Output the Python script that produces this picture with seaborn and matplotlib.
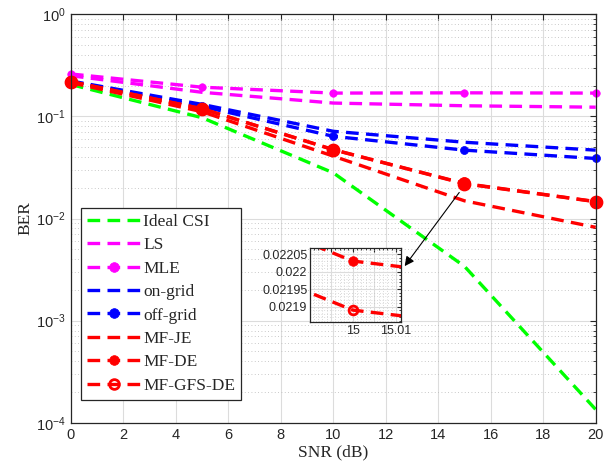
import numpy as np
import pandas as pd
import matplotlib
matplotlib.use("Agg")
import matplotlib.pyplot as plt
import seaborn as sns
from matplotlib.ticker import FixedLocator, FuncFormatter, LogLocator, NullFormatter

# SNR points (dB)
snr = [0, 5, 10, 15, 20]

# BER curves
ber_ideal = [0.205, 0.097, 0.028, 0.0034, 1.35e-4]
ber_ls = [0.25, 0.172, 0.135, 0.127, 0.123]
ber_mle = [0.26, 0.193, 0.169, 0.170, 0.169]
ber_ongrid = [0.222, 0.131, 0.0714, 0.0558, 0.0467]
ber_offgrid = [0.218, 0.125, 0.0638, 0.0467, 0.0387]
ber_mfje = [0.214, 0.111, 0.0408, 0.0149, 0.0082]
ber_mfde = [0.219, 0.119, 0.0473, 0.02203, 0.01466]
ber_gfs = [0.2185, 0.1185, 0.0471, 0.02189, 0.0146]

series = [
    ("Ideal CSI", ber_ideal, "#00ff00", None, 0),
    ("LS", ber_ls, "#ff00ff", None, 0),
    ("MLE", ber_mle, "#ff00ff", "o", 7.5),
    ("on-grid", ber_ongrid, "#0000ff", None, 0),
    ("off-grid", ber_offgrid, "#0000ff", "o", 8),
    ("MF-JE", ber_mfje, "#ff0000", None, 0),
    ("MF-DE", ber_mfde, "#ff0000", "o", 12),
    ("MF-GFS-DE", ber_gfs, "#ff0000", "o", 11),
]

# inset tick values
inset_xticks = [14.995, 15, 15.005, 15.01]
inset_xlabels = ["", "15", "", "15.01"]
inset_yticks = [0.0219, 0.02195, 0.022, 0.02205]

sns.set_style("white")
plt.rcParams["font.family"] = ["Liberation Sans", "DejaVu Sans"]
plt.rcParams["mathtext.fontset"] = "custom"
plt.rcParams["mathtext.rm"] = "Liberation Sans"

DASH = (0, (3.8, 2.2))
LW = 2.4


def draw_series(ax, name, vals, color, marker, ms, clip=True):
    kws = dict(color=color, linewidth=LW, linestyle=DASH, label=name)
    if marker is not None:
        kws["marker"] = marker
        kws["markersize"] = ms / 1.39
        if name == "MF-GFS-DE":
            kws["markerfacecolor"] = "none"
            kws["markeredgecolor"] = color
            kws["markeredgewidth"] = 2.0
        else:
            kws["markerfacecolor"] = color
            kws["markeredgecolor"] = color
            kws["markeredgewidth"] = 0.5
    sns.lineplot(x=snr, y=vals, ax=ax, errorbar=None, clip_on=clip, **kws)


fig = plt.figure(figsize=(6.06, 4.74), dpi=100)
ax = fig.add_axes([0.117, 0.108, 0.866, 0.862])
ax.set_yscale("log")

for name, vals, color, marker, ms in series:
    draw_series(ax, name, vals, color, marker, ms, clip=False)

ax.set_xlim(0, 20)
ax.set_ylim(1e-4, 1)
ax.set_xticks(np.arange(0, 21, 2))
ax.yaxis.set_major_locator(LogLocator(base=10, numticks=10))
ax.yaxis.set_minor_locator(LogLocator(base=10, subs=np.arange(2, 10), numticks=20))
ax.yaxis.set_minor_formatter(NullFormatter())
ax.grid(True, which="major", color="#dcdcdc", linewidth=0.8, linestyle="-")
ax.grid(True, which="minor", axis="y", color="#b8b8b8", linewidth=0.6, linestyle=(0, (1, 3)))
ax.set_axisbelow(True)
ax.tick_params(which="both", direction="in", top=True, right=True, colors="#262626",
               labelsize=10.5, labelcolor="#262626")
ax.tick_params(which="major", length=4)
ax.tick_params(which="minor", length=2.5)
for sp in ax.spines.values():
    sp.set_color("#262626")
    sp.set_linewidth(0.9)

ax.set_xlabel("SNR (dB)", family=["Liberation Serif"], fontsize=12.5, color="#262626", labelpad=2)
ax.set_ylabel("BER", family=["Liberation Serif"], fontsize=12.5, color="#262626", labelpad=2)

leg = ax.legend(loc="lower left", bbox_to_anchor=(0.019, 0.056), borderaxespad=0,
                prop={"family": "Liberation Serif", "size": 12.5}, handlelength=3.1,
                handletextpad=0.15, labelspacing=0.42, borderpad=0.35, fancybox=False,
                framealpha=1, edgecolor="#262626")
leg.get_frame().set_linewidth(0.9)
for h in leg.legend_handles:
    if h.get_marker() not in (None, "None", ""):
        h.set_markersize(7)

# arrow from the MF-DE point to the inset
ax.annotate("", xy=(12.72, 0.00342), xytext=(14.8, 0.018),
            arrowprops=dict(arrowstyle="-|>", color="black", lw=0.8,
                            mutation_scale=14, shrinkA=0, shrinkB=0))

# inset zoom around SNR = 15 dB
axin = fig.add_axes([0.5116, 0.3207, 0.150, 0.156])
for name, vals, color, marker, ms in series:
    if name in ("MF-DE", "MF-GFS-DE"):
        draw_series(axin, name, vals, color, marker, ms * 0.8)
if axin.get_legend() is not None:
    axin.get_legend().remove()
axin.set_xlim(14.9902, 15.0111)
axin.set_ylim(0.021856, 0.022067)
axin.xaxis.set_major_locator(FixedLocator(inset_xticks))
axin.xaxis.set_major_formatter(FuncFormatter(lambda v, p: inset_xlabels[p] if p is not None and p < len(inset_xlabels) else ""))
axin.yaxis.set_major_locator(FixedLocator(inset_yticks))
axin.yaxis.set_major_formatter(FuncFormatter(lambda v, p: f"{v:g}"))
axin.xaxis.set_minor_locator(FixedLocator(np.arange(14.991, 15.011, 0.001)))
axin.yaxis.set_minor_locator(FixedLocator(np.arange(0.02186, 0.02207, 0.00001)))
axin.grid(True, which="major", color="#dcdcdc", linewidth=0.8)
axin.grid(True, which="minor", color="#b8b8b8", linewidth=0.5, linestyle=(0, (1, 3)))
axin.tick_params(which="both", direction="in", top=True, right=True, colors="#262626",
                 labelsize=9, labelcolor="#262626", pad=2)
axin.tick_params(which="major", length=3)
axin.tick_params(which="minor", length=1.5)
axin.set_xlabel("")
axin.set_ylabel("")
for sp in axin.spines.values():
    sp.set_color("#262626")
    sp.set_linewidth(0.9)

fig.savefig("out.png", dpi=100)
